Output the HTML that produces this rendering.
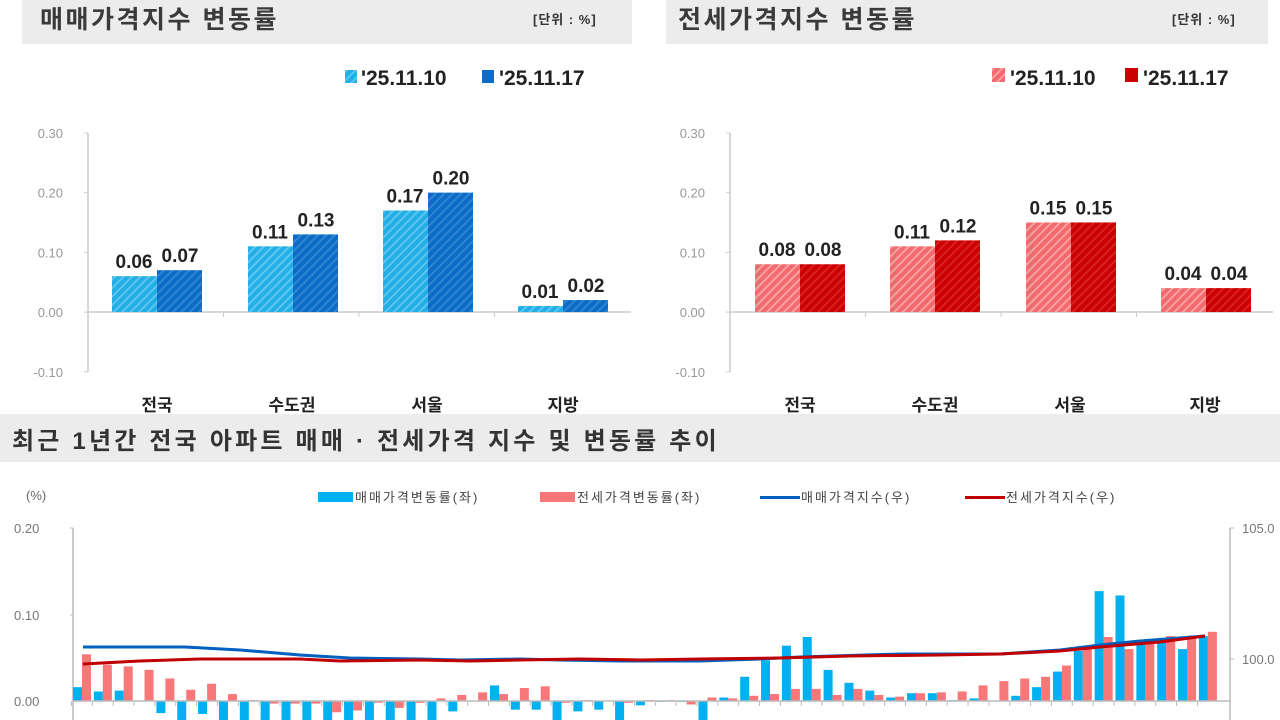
<!DOCTYPE html>
<html><head><meta charset="utf-8"><style>
html,body{margin:0;padding:0;background:#fff;}
svg{display:block;font-family:"Liberation Sans","Noto Sans CJK KR",sans-serif;}
</style></head><body>
<svg id="s" width="1280" height="720" viewBox="0 0 1280 720" xmlns="http://www.w3.org/2000/svg">
<defs>
<pattern id="hb1" width="6" height="6" patternUnits="userSpaceOnUse" patternTransform="rotate(45)"><rect width="6" height="6" fill="#22aee6"/><rect width="2" height="6" fill="#5cc6ee"/></pattern>
<pattern id="hb2" width="6" height="6" patternUnits="userSpaceOnUse" patternTransform="rotate(45)"><rect width="6" height="6" fill="#0b6bc6"/><rect width="2" height="6" fill="#2f85d2"/></pattern>
<pattern id="hr1" width="6" height="6" patternUnits="userSpaceOnUse" patternTransform="rotate(45)"><rect width="6" height="6" fill="#f26a6e"/><rect width="2" height="6" fill="#f8a0a2"/></pattern>
<pattern id="hr2" width="6" height="6" patternUnits="userSpaceOnUse" patternTransform="rotate(45)"><rect width="6" height="6" fill="#cc0000"/><rect width="2" height="6" fill="#d82222"/></pattern>
</defs>
<rect x="22" y="0" width="610" height="44" fill="#ececec"/>
<rect x="666" y="0" width="602" height="44" fill="#ececec"/>
<text x="40" y="28" font-size="25" font-weight="bold" fill="#3a3a3a" letter-spacing="2.5">매매가격지수 변동률</text>
<text x="533" y="24" font-size="13" font-weight="bold" fill="#333" letter-spacing="1">[단위 : %]</text>
<text x="678" y="28" font-size="25" font-weight="bold" fill="#3a3a3a" letter-spacing="2.5">전세가격지수 변동률</text>
<text x="1172" y="24" font-size="13" font-weight="bold" fill="#333" letter-spacing="1">[단위 : %]</text>
<rect x="345" y="70" width="12" height="13" fill="url(#hb1)"/>
<text x="361" y="85" font-size="21" font-weight="bold" fill="#222">'25.11.10</text>
<rect x="482" y="70" width="12" height="13" fill="#0b6bc6"/>
<text x="499" y="85" font-size="21" font-weight="bold" fill="#222">'25.11.17</text>
<rect x="992" y="68" width="13" height="14" fill="url(#hr1)"/>
<text x="1010" y="85" font-size="21" font-weight="bold" fill="#222">'25.11.10</text>
<rect x="1125" y="68" width="13" height="14" fill="#cc0000"/>
<text x="1143" y="85" font-size="21" font-weight="bold" fill="#222">'25.11.17</text>
<g id="tops"></g>
<rect x="0" y="414" width="1280" height="48" fill="#ececec"/>
<text x="12" y="449" font-size="24" font-weight="bold" fill="#333" letter-spacing="3.2">최근 1년간 전국 아파트 매매 · 전세가격 지수 및 변동률 추이</text>
<text x="26" y="500" font-size="13" fill="#666">(%)</text>
<rect x="318" y="492" width="35" height="10" fill="#00b0f0"/>
<text x="355" y="502" font-size="13" fill="#444" letter-spacing="2">매매가격변동률(좌)</text>
<rect x="540" y="492" width="35" height="10" fill="#f8787a"/>
<text x="577" y="502" font-size="13" fill="#444" letter-spacing="2">전세가격변동률(좌)</text>
<rect x="760" y="496" width="40" height="3" fill="#0060c0"/>
<text x="801" y="502" font-size="13" fill="#444" letter-spacing="2">매매가격지수(우)</text>
<rect x="965" y="496" width="40" height="3" fill="#c00000"/>
<text x="1006" y="502" font-size="13" fill="#444" letter-spacing="2">전세가격지수(우)</text>
<g font-size="13" fill="#777">
<text x="14" y="533">0.20</text><text x="14" y="620">0.10</text><text x="14" y="706">0.00</text>
<text x="1242" y="533">105.0</text><text x="1242" y="664">100.0</text>
</g>
<line x1="73" y1="528" x2="73" y2="720" stroke="#bbb" stroke-width="1.5"/>
<line x1="70" y1="528" x2="73" y2="528" stroke="#bbb"/><line x1="70" y1="615" x2="73" y2="615" stroke="#bbb"/>
<line x1="1230" y1="528" x2="1230" y2="720" stroke="#bbb" stroke-width="1.5"/>
<line x1="1230" y1="528" x2="1234" y2="528" stroke="#bbb"/><line x1="1230" y1="659" x2="1234" y2="659" stroke="#bbb"/>
<g id="bot"></g>
<line x1="73" y1="701" x2="1230" y2="701" stroke="#bbb" stroke-width="1.5"/>
<polyline fill="none" stroke="#0060c0" stroke-width="3" points="83,647 185,647 240,650 300,655 350,658 420,659 460,660 520,659 560,660 620,661 700,661 760,659 800,657 900,654 1000,654 1060,650 1100,645 1140,641 1205,636"/>
<polyline fill="none" stroke="#c00000" stroke-width="3" points="83,664 140,661 200,659 300,659 340,661 420,660 470,661 520,660 580,659 640,660 700,659 780,658 850,656 940,655 1000,654 1060,651 1100,647 1160,642 1205,636"/>
</svg>
<script>
var NS="http://www.w3.org/2000/svg";
function el(p,t,a,txt){var e=document.createElementNS(NS,t);for(var k in a)e.setAttribute(k,a[k]);if(txt!=null)e.textContent=txt;p.appendChild(e);return e;}
var tops=document.getElementById('tops');
function chart(ax,x0s,v1,v2,c1,c2,cats,catx){
  var z=312,s=597;
  el(tops,'line',{x1:ax,y1:133,x2:ax,y2:372,stroke:'#ccc','stroke-width':1.5});
  el(tops,'line',{x1:ax,y1:z,x2:ax+543,y2:z,stroke:'#ccc','stroke-width':1.5});
  var lb=['0.30','0.20','0.10','0.00','-0.10'];
  for(var i=0;i<5;i++){var y=133+i*59.7;el(tops,'line',{x1:ax-4,y1:y,x2:ax,y2:y,stroke:'#ccc'});
    el(tops,'text',{x:ax-25,y:y+5,'font-size':13,fill:'#999','text-anchor':'end'},lb[i]);}
  for(var i=1;i<4;i++){var tx=ax+i*135.5;el(tops,'line',{x1:tx,y1:z,x2:tx,y2:z+5,stroke:'#ccc'});}
  for(var i=0;i<4;i++){var x=x0s[i];
    var h1=v1[i]*s,h2=v2[i]*s;
    el(tops,'rect',{x:x,y:z-h1,width:45,height:h1,fill:c1});
    el(tops,'rect',{x:x+45,y:z-h2,width:45,height:h2,fill:c2});
    el(tops,'text',{x:x+22,y:z-h1-8,'font-size':19,'font-weight':'bold',fill:'#222','text-anchor':'middle'},v1[i].toFixed(2));
    el(tops,'text',{x:x+68,y:z-h2-8,'font-size':19,'font-weight':'bold',fill:'#222','text-anchor':'middle'},v2[i].toFixed(2));
    el(tops,'text',{x:catx[i],y:411,'font-size':17,'font-weight':'bold',fill:'#222','text-anchor':'middle'},cats[i]);
  }
}
var cats=['전국','수도권','서울','지방'];
chart(88,[112,248,383,518],[0.06,0.11,0.17,0.01],[0.07,0.13,0.20,0.02],'url(#hb1)','url(#hb2)',cats,[157,292,427,563]);
chart(730,[755,890,1026,1161],[0.08,0.11,0.15,0.04],[0.08,0.12,0.15,0.04],'url(#hr1)','url(#hr2)',cats,[800,935,1070,1205]);
var B=[.016,.011,.012,0,-.014,-.03,-.015,-.03,-.03,-.03,-.03,-.03,-.03,-.03,-.03,-.03,-.03,-.03,-.012,0,.018,-.01,-.01,-.03,-.012,-.01,-.03,-.005,-.001,-.001,-.025,.004,.028,.047,.064,.074,.036,.021,.012,.004,.009,.009,.001,.003,0,.006,.016,.034,.058,.127,.122,.067,.07,.06,.075];
var R=[.054,.042,.04,.036,.026,.013,.02,.008,.001,-.003,-.003,-.003,-.013,-.011,-.002,-.008,-.002,.003,.007,.01,.008,.015,.017,-.002,.001,0,-.002,.001,.001,-.004,.004,.003,.006,.008,.014,.014,.007,.014,.007,.005,.009,.01,.011,.018,.023,.026,.028,.041,.06,.074,.06,.067,.075,.075,.08];
var bot=document.getElementById('bot');
function bar(x,v,c){var h=v*865;if(h>=0)el(bot,'rect',{x:x,y:701-h,width:9,height:h,fill:c});else el(bot,'rect',{x:x,y:701,width:9,height:-h,fill:c});}
for(var i=0;i<55;i++){var x=73+i*20.85;
  bar(x,B[i],'#00b0f0');bar(x+9,R[i],'#f8787a');
  el(bot,'line',{x1:x-1.5,y1:701,x2:x-1.5,y2:706,stroke:'#bbb'});
}
</script>
</body></html>
